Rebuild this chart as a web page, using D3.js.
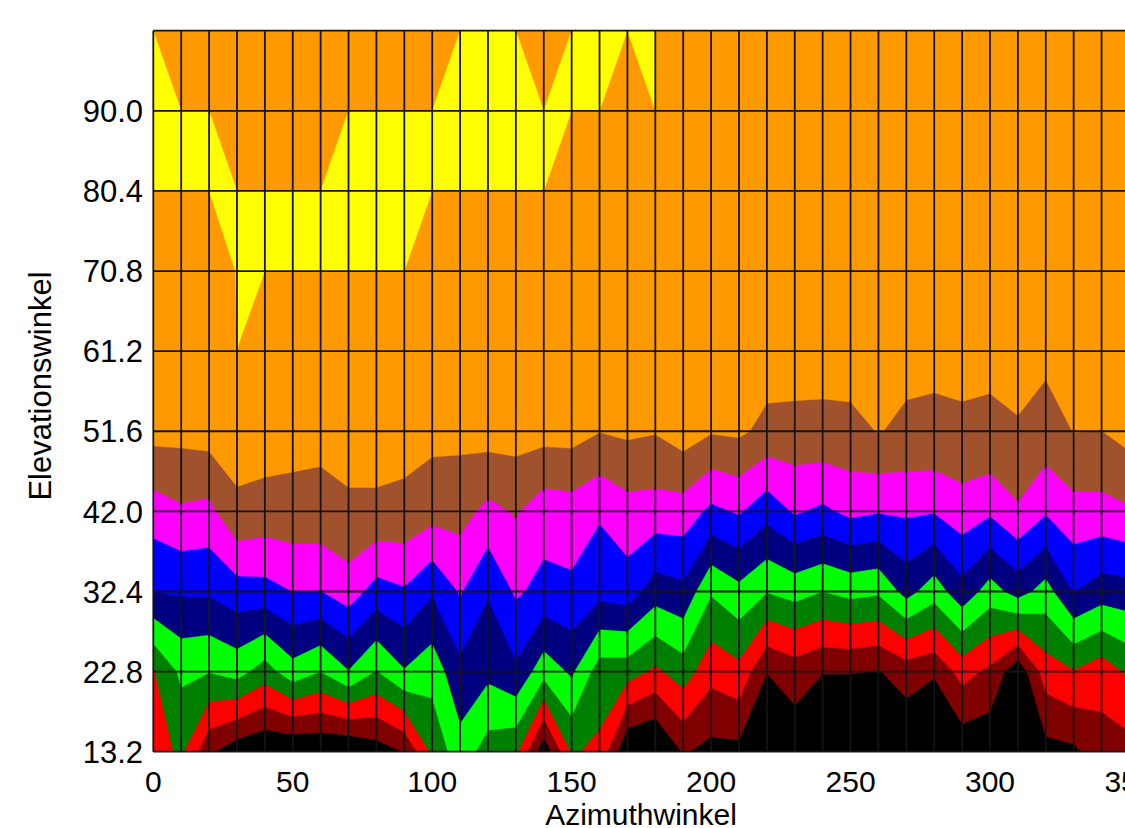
<!DOCTYPE html>
<html>
<head>
<meta charset="utf-8">
<script src="https://cdn.jsdelivr.net/npm/d3@7"></script>
<style>
  html, body { margin: 0; padding: 0; background: #ffffff; }
  svg { display: block; }
  text { font-family: "Liberation Sans", Arial, Helvetica, sans-serif; fill: #000; }
</style>
</head>
<body>
<svg id="chart" width="1125" height="828"></svg>
<script>
// Sample grid: azimuth every 10 degrees, elevation every 9.6 degrees.
const azimuths = d3.range(0, 361, 10);
const elevations = [13.2, 22.8, 32.4, 42.0, 51.6, 61.2, 70.8, 80.4, 90.0, 99.6];

// Field values, one row per elevation (index = azimuth column 0..360).
const row13_2 = [2.5, 3.2, 1.2, 0.38, 0.05, 0.0, 0.04, 0.0, 0.5, 1.05, 3.22, 4.6, 3.54, 3.2, 0.28, 3.1, 2.8, 0.0, -0.3, 1.1, 0.7, 0.71, -1, 0.34, -2, -2, -2, 0.14, -1.18, 0.28, 0.21, -0.5, 0.65, 0.8, 1.58, 1.6, 2.5];
const row22_8 = [2.93, 4.2, 4.04, 4.38, 3.53, 4.6, 4.01, 4.95, 3.95, 4.92, 4.39, 5.72, 5.25, 5.81, 4.4, 5.15, 3.5, 3.45, 2.8, 3.5, 2.33, 2.71, 1.05, 1.47, 1.1, 1.1, 0.95, 1.43, 1.2, 2.37, 1.79, 0.28, 2.5, 2.94, 2.42, 3.2, 2.93];
const row32_4 = [6.01, 6.12, 6.13, 6.56, 6.63, 7.01, 6.98, 7.5, 6.59, 6.89, 6.1, 7.09, 6.08, 7.14, 6.7, 6.8, 6.34, 6.53, 5.48, 5.75, 4.1, 4.71, 4.05, 4.37, 4.01, 4.3, 4.15, 5.35, 4.46, 5.64, 4.55, 5.4, 4.58, 6.03, 5.5, 5.6, 6.01];
const row42_0 = [7.5, 7.86, 7.71, 8.84, 8.63, 8.66, 8.67, 8.89, 8.81, 8.73, 8.39, 8.38, 7.72, 8.09, 7.44, 7.55, 7.12, 7.62, 7.57, 7.56, 6.77, 7.11, 6.37, 7.12, 6.81, 7.24, 7.07, 7.15, 7.06, 7.57, 7.16, 7.88, 7.11, 7.67, 7.67, 7.9, 7.5];
const row51_6 = [9.34, 9.3, 9.43, 9.36, 9.5, 9.35, 9.26, 9.26, 9.45, 9.38, 9.29, 9.26, 9.44, 9.42, 9.37, 9.39, 9.03, 9.17, 9.06, 9.49, 9.08, 9.17, 8.73, 8.65, 8.73, 8.77, 9.03, 8.86, 8.88, 8.8, 8.92, 8.88, 8.64, 9.02, 8.99, 9.36, 9.34];
const row61_2 = [9.5, 9.5, 9.5, 9.999, 9.5, 9.5, 9.5, 9.5, 9.5, 9.5, 9.5, 9.5, 9.5, 9.5, 9.5, 9.5, 9.5, 9.5, 9.5, 9.5, 9.5, 9.5, 9.5, 9.57, 9.4, 9.4, 9.5, 9.22, 9.13, 9.34, 9.09, 9.5, 9.2, 9.5, 9.5, 9.5, 9.5];
const row70_8 = [9.5, 9.5, 9.5, 10.03, 10, 10, 10, 10, 10, 10, 9.5, 9.5, 9.5, 9.5, 9.5, 9.5, 9.5, 9.5, 9.5, 9.5, 9.5, 9.5, 9.5, 9.5, 9.5, 9.5, 9.5, 9.5, 9.5, 9.5, 9.5, 9.5, 9.5, 9.5, 9.5, 9.5, 9.5];
const row80_4 = [10, 10, 10, 10, 10, 10, 10, 10, 10, 10, 10, 10, 10, 10, 10, 9.5, 9.5, 9.5, 9.5, 9.5, 9.5, 9.5, 9.5, 9.5, 9.5, 9.5, 9.5, 9.5, 9.5, 9.5, 9.5, 9.5, 9.5, 9.5, 9.5, 9.5, 9.5];
const row90_0 = [10, 10, 10, 9.5, 9.5, 9.5, 9.5, 10, 10, 10, 10, 10, 10, 10, 10, 10, 10, 9.5, 10, 9.5, 9.5, 9.5, 9.5, 9.5, 9.5, 9.5, 9.5, 9.5, 9.5, 9.5, 9.5, 9.5, 9.5, 9.5, 9.5, 9.5, 9.5];
const row99_6 = [10, 9.5, 9.5, 9.5, 9.5, 9.5, 9.5, 9.5, 9.5, 9.5, 9.5, 10, 10, 10, 9.5, 10, 10, 10, 10, 9.5, 9.5, 9.5, 9.5, 9.5, 9.5, 9.5, 9.5, 9.5, 9.5, 9.5, 9.5, 9.5, 9.5, 9.5, 9.5, 9.5, 9.5];

// Contour levels and fill colours (below the first level: black).
const levels = [1, 2, 3, 4, 5, 6, 7, 8, 9, 10];
const levelColors = ["#800000", "#ff0000", "#008000", "#00ff00", "#000080",
                     "#0000ff", "#ff00ff", "#a0522d", "#ff9900", "#ffff00"];
const baseColor = "#000000";

// Axis ticks
const xTicks = [0, 50, 100, 150, 200, 250, 300, 350];
const yTicks = [13.2, 22.8, 32.4, 42.0, 51.6, 61.2, 70.8, 80.4, 90.0];
const xTitle = "Azimuthwinkel";
const yTitle = "Elevationswinkel";

const svg = d3.select("#chart");
const plotLeft = 153.3, plotTop = 30.7, plotBottom = 751.7;
const colStep = 27.89;
const x = d3.scaleLinear().domain([0, 360]).range([plotLeft, plotLeft + 36 * colStep]);
const y = d3.scaleLinear().domain([13.2, 99.6]).range([plotBottom, plotTop]);

const rows = [row13_2, row22_8, row32_4, row42_0, row51_6, row61_2, row70_8, row80_4, row90_0, row99_6];
const nx = azimuths.length, ny = elevations.length;
const values = [].concat(...rows);

// grid coordinates from d3.contours put sample i at i + 0.5
const gx = d3.scaleLinear().domain([0.5, nx - 0.5]).range([azimuths[0], azimuths[nx - 1]]);
const gy = d3.scaleLinear().domain([0.5, ny - 0.5]).range([elevations[0], elevations[ny - 1]]);
const toScreen = d3.geoTransform({
  point(px, py) { this.stream.point(x(gx(px)), y(gy(py))); }
});
const path = d3.geoPath(toScreen);

const defs = svg.append("defs");
defs.append("clipPath").attr("id", "plotClip")
  .append("rect")
  .attr("x", x(0)).attr("y", y(99.6))
  .attr("width", x(360) - x(0)).attr("height", y(13.2) - y(99.6));

const plot = svg.append("g").attr("clip-path", "url(#plotClip)");

plot.append("rect")
  .attr("x", x(0)).attr("y", y(99.6))
  .attr("width", x(360) - x(0)).attr("height", y(13.2) - y(99.6))
  .attr("fill", baseColor);

const bands = d3.contours().size([nx, ny]).thresholds(levels)(values);
plot.selectAll("path.band")
  .data(bands)
  .join("path")
  .attr("class", "band")
  .attr("d", path)
  .attr("fill", (d, i) => levelColors[i])
  .attr("stroke", (d, i) => levelColors[i])
  .attr("stroke-width", 0.4);

// grid
const grid = svg.append("g").attr("stroke", "#141414").attr("stroke-width", 1.8);
grid.selectAll("line.v")
  .data(azimuths)
  .join("line")
  .attr("class", "v")
  .attr("x1", d => x(d)).attr("x2", d => x(d))
  .attr("y1", y(99.6)).attr("y2", y(13.2));
grid.selectAll("line.h")
  .data(elevations)
  .join("line")
  .attr("class", "h")
  .attr("x1", x(0)).attr("x2", x(360))
  .attr("y1", d => y(d)).attr("y2", d => y(d));

// axes labels
const fs = 30;
svg.append("g").selectAll("text")
  .data(yTicks)
  .join("text")
  .attr("x", 143)
  .attr("y", d => y(d))
  .attr("dy", "0.36em")
  .attr("text-anchor", "end")
  .attr("font-size", 31)
  .text(d => d.toFixed(1));

svg.append("g").selectAll("text")
  .data(xTicks)
  .join("text")
  .attr("x", d => x(d))
  .attr("y", 791.5)
  .attr("text-anchor", "middle")
  .attr("font-size", fs)
  .text(d => d);

svg.append("text")
  .attr("x", 641)
  .attr("y", 825)
  .attr("text-anchor", "middle")
  .attr("font-size", fs)
  .text(xTitle);

svg.append("text")
  .attr("transform", `translate(51,386) rotate(-90)`)
  .attr("text-anchor", "middle")
  .attr("font-size", 31)
  .text(yTitle);
</script>
</body>
</html>
